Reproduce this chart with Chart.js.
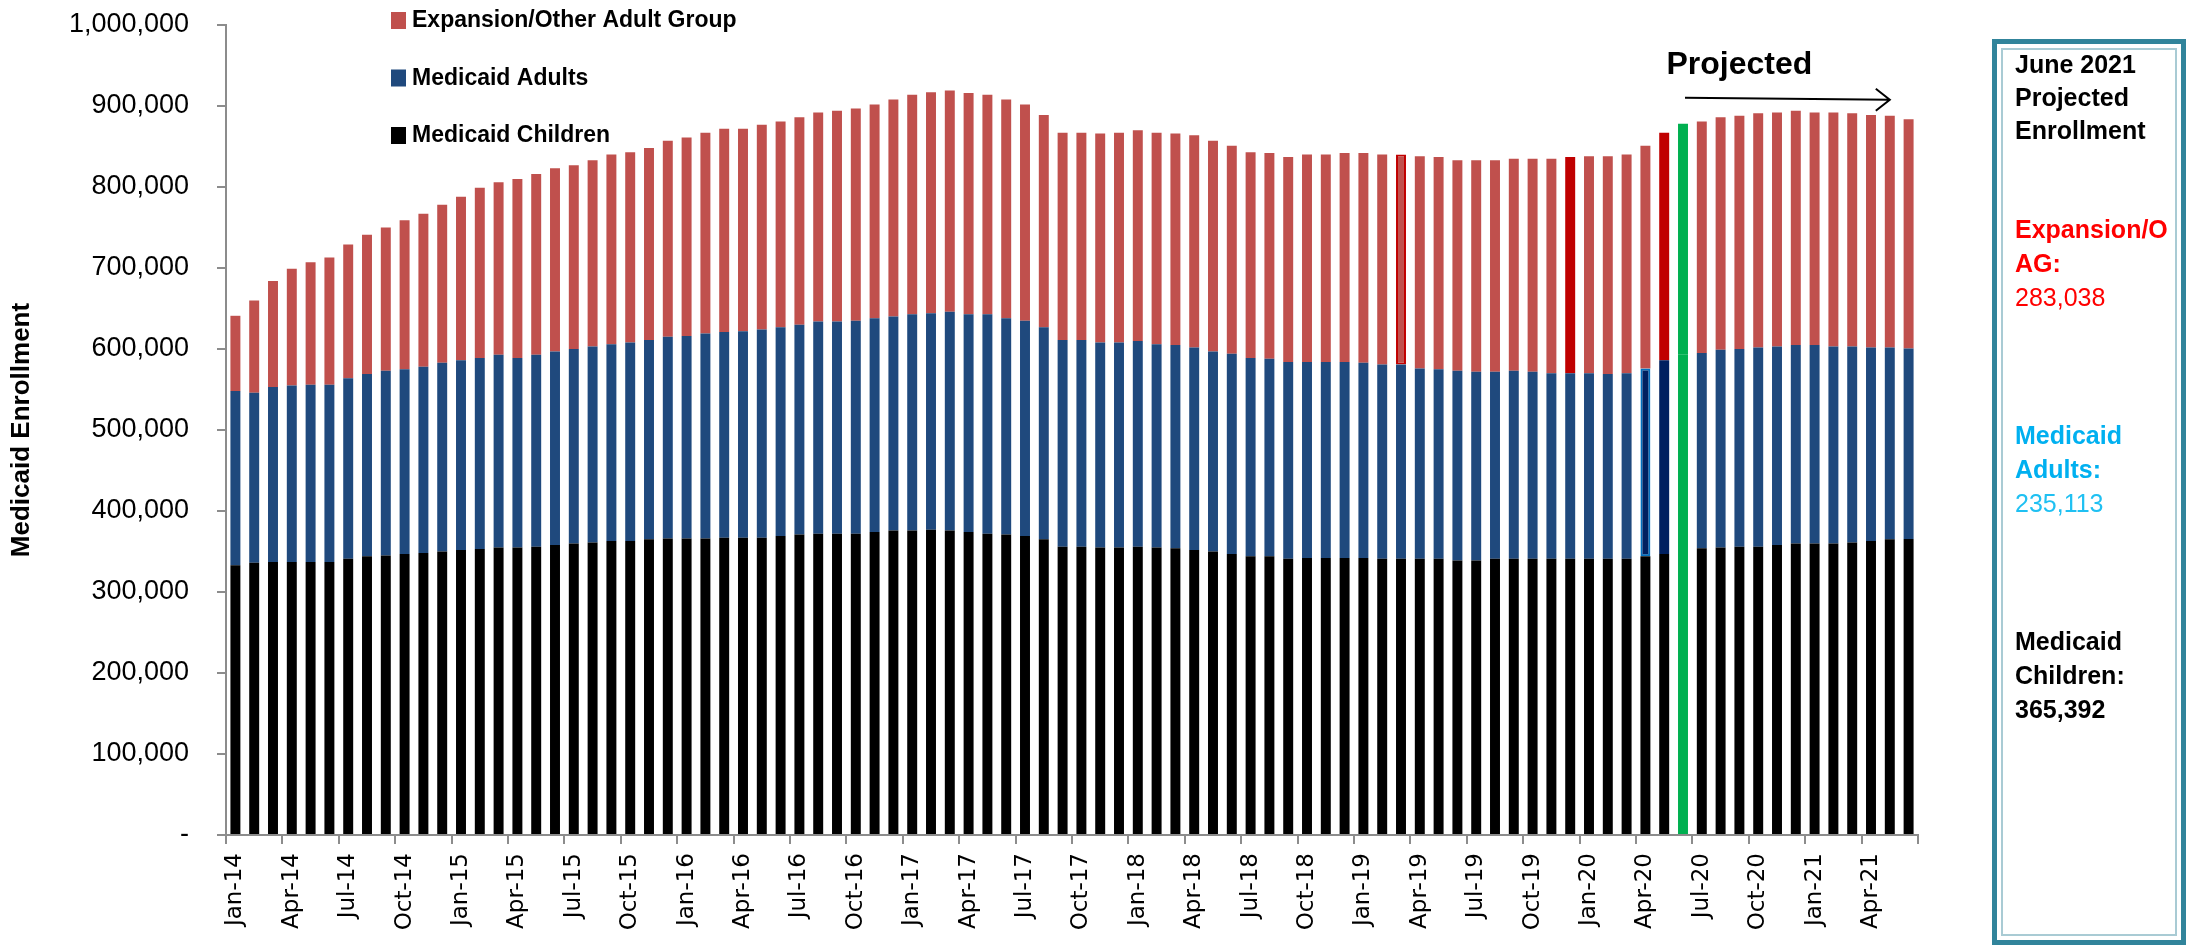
<!DOCTYPE html>
<html>
<head>
<meta charset="utf-8">
<script src="https://cdn.jsdelivr.net/npm/chart.js@4.4.1/dist/chart.umd.min.js"></script>
<style>
  html, body { margin: 0; padding: 0; background: #fff; }
  #wrap { position: relative; width: 2187px; height: 947px; }
</style>
</head>
<body>
<div id="wrap"><canvas id="chart" width="2187" height="947"></canvas></div>
<script>
var months = [
  'Jan-14','Feb-14','Mar-14','Apr-14','May-14','Jun-14','Jul-14','Aug-14','Sep-14','Oct-14','Nov-14','Dec-14',
  'Jan-15','Feb-15','Mar-15','Apr-15','May-15','Jun-15','Jul-15','Aug-15','Sep-15','Oct-15','Nov-15','Dec-15',
  'Jan-16','Feb-16','Mar-16','Apr-16','May-16','Jun-16','Jul-16','Aug-16','Sep-16','Oct-16','Nov-16','Dec-16',
  'Jan-17','Feb-17','Mar-17','Apr-17','May-17','Jun-17','Jul-17','Aug-17','Sep-17','Oct-17','Nov-17','Dec-17',
  'Jan-18','Feb-18','Mar-18','Apr-18','May-18','Jun-18','Jul-18','Aug-18','Sep-18','Oct-18','Nov-18','Dec-18',
  'Jan-19','Feb-19','Mar-19','Apr-19','May-19','Jun-19','Jul-19','Aug-19','Sep-19','Oct-19','Nov-19','Dec-19',
  'Jan-20','Feb-20','Mar-20','Apr-20','May-20','Jun-20','Jul-20','Aug-20','Sep-20','Oct-20','Nov-20','Dec-20',
  'Jan-21','Feb-21','Mar-21','Apr-21','May-21','Jun-21'
];

var medicaidChildren = [
  333000, 336000, 337000, 337000, 337000, 337000, 341000, 344000, 345000, 347000,
  348000, 350000, 352000, 353000, 355000, 355000, 356000, 358000, 360000, 361000,
  363000, 363000, 365000, 366000, 366000, 366000, 367000, 367000, 367000, 369000,
  371000, 372000, 372000, 372000, 374000, 376000, 376000, 377000, 376000, 374000,
  372000, 371000, 369000, 365000, 356000, 356000, 355000, 355000, 356000, 355000,
  354000, 352000, 350000, 347000, 344000, 344000, 341000, 342000, 342000, 342000,
  342000, 341000, 341000, 341000, 341000, 339000, 339000, 341000, 341000, 341000,
  341000, 341000, 341000, 341000, 341000, 344000, 347000, 352000, 354000, 355000,
  356000, 356000, 358000, 360000, 360000, 360000, 361000, 363000, 365000, 365392
];

var medicaidAdults = [
  215000, 210000, 216000, 218000, 219000, 219000, 223000, 225000, 228000, 228000,
  230000, 233000, 234000, 236000, 238000, 234000, 237000, 239000, 240000, 242000,
  243000, 245000, 246000, 249000, 250000, 253000, 254000, 255000, 257000, 258000,
  259000, 262000, 262000, 263000, 264000, 264000, 267000, 267000, 270000, 269000,
  271000, 267000, 266000, 262000, 255000, 255000, 253000, 253000, 254000, 251000,
  251000, 250000, 247000, 247000, 245000, 244000, 243000, 242000, 242000, 242000,
  241000, 240000, 240000, 235000, 234000, 234000, 233000, 231000, 232000, 231000,
  229000, 229000, 229000, 228000, 229000, 232000, 239000, 241000, 241000, 244000,
  244000, 246000, 245000, 245000, 245000, 243000, 242000, 239000, 237000, 235113
];

var expansionOAG = [
  93000, 114000, 131000, 144000, 151000, 157000, 165000, 172000, 177000, 184000,
  189000, 195000, 202000, 210000, 213000, 221000, 223000, 226000, 227000, 230000,
  234000, 235000, 237000, 242000, 245000, 248000, 251000, 250000, 253000, 254000,
  256000, 258000, 260000, 262000, 264000, 268000, 271000, 273000, 273000, 273000,
  271000, 270000, 267000, 262000, 256000, 256000, 258000, 259000, 260000, 261000,
  261000, 262000, 260000, 257000, 254000, 254000, 253000, 256000, 256000, 258000,
  259000, 259000, 259000, 262000, 262000, 260000, 261000, 261000, 262000, 263000,
  265000, 267000, 268000, 269000, 270000, 275000, 281000, 285000, 286000, 287000,
  288000, 289000, 289000, 289000, 287000, 289000, 288000, 287000, 286000, 283038
];

// June 2021 side box
var boxLines = [
  { text: 'June 2021', color: '#000000', bold: true, y: 66 },
  { text: 'Projected', color: '#000000', bold: true, y: 99 },
  { text: 'Enrollment', color: '#000000', bold: true, y: 132 },
  { text: 'Expansion/O', color: '#ff0000', bold: true, y: 231 },
  { text: 'AG:', color: '#ff0000', bold: true, y: 265 },
  { text: '283,038', color: '#ff0000', bold: false, y: 299 },
  { text: 'Medicaid', color: '#00b0f0', bold: true, y: 437 },
  { text: 'Adults:', color: '#00b0f0', bold: true, y: 471 },
  { text: '235,113', color: '#1fc0f2', bold: false, y: 505 },
  { text: 'Medicaid', color: '#000000', bold: true, y: 643 },
  { text: 'Children:', color: '#000000', bold: true, y: 677 },
  { text: '365,392', color: '#000000', bold: true, y: 711 }
];

var RED = '#c0504d', BLUE = '#1f497d', BLACK = '#000000';
var DARKRED = '#c00000', NAVY = '#002060', GREEN = '#00b050';
var projectedIdx = months.indexOf('Jun-20');

function fills(base, overrides) {
  return months.map(function (m, i) {
    if (i === projectedIdx) return GREEN;
    return overrides[m] || base;
  });
}
function borders(overrides) {
  return months.map(function (m) { return overrides[m] || 'rgba(0,0,0,0)'; });
}
function borderWidths(overrides) {
  return months.map(function (m) { return overrides[m] || 0; });
}

var extrasPlugin = {
  id: 'extras',
  afterDraw: function (chart) {
    var ctx = chart.ctx;
    var xs = chart.scales.x, ys = chart.scales.y;
    ctx.save();

    // legend
    var items = [
      { label: chart.data.datasets[2].label, color: RED },
      { label: chart.data.datasets[1].label, color: BLUE },
      { label: chart.data.datasets[0].label, color: BLACK }
    ];
    ctx.font = 'bold 23px "Liberation Sans", Arial, sans-serif';
    ctx.textBaseline = 'middle';
    items.forEach(function (it, k) {
      var cy = 20 + k * 57.5;
      ctx.fillStyle = it.color;
      ctx.fillRect(391, cy - 8, 15, 17);
      ctx.fillStyle = '#000';
      ctx.fillText(it.label, 412, cy + 1);
    });

    // projected label and arrow
    ctx.font = 'bold 32px "Liberation Sans", Arial, sans-serif';
    ctx.textAlign = 'center';
    ctx.fillStyle = '#000';
    ctx.fillText('Projected', xs.getPixelForValue(80), ys.getPixelForValue(950000));
    var ax0 = xs.getPixelForValue(projectedIdx) + 2, ax1 = xs.getPixelForValue(88);
    var ay = ys.getPixelForValue(909000);
    ctx.strokeStyle = '#000';
    ctx.lineWidth = 2;
    ctx.beginPath();
    ctx.moveTo(ax0, ay - 1);
    ctx.lineTo(ax1, ay + 1);
    ctx.moveTo(ax1 - 14, ay - 10);
    ctx.lineTo(ax1, ay + 1);
    ctx.lineTo(ax1 - 14, ay + 12);
    ctx.stroke();

    // side box
    ctx.lineWidth = 5;
    ctx.strokeStyle = '#31849b';
    ctx.strokeRect(1994.5, 41.5, 189, 901);
    ctx.lineWidth = 2;
    ctx.strokeStyle = '#a9cbd4';
    ctx.strokeRect(2002, 49, 174, 886);
    ctx.textAlign = 'left';
    boxLines.forEach(function (l) {
      ctx.font = (l.bold ? 'bold ' : '') + '25px "Liberation Sans", Arial, sans-serif';
      ctx.fillStyle = l.color;
      ctx.fillText(l.text, 2015, l.y);
    });
    ctx.restore();
  }
};

new Chart(document.getElementById('chart').getContext('2d'), {
  type: 'bar',
  data: {
    labels: months,
    datasets: [
      {
        label: 'Medicaid Children',
        data: medicaidChildren,
        backgroundColor: fills(BLACK, {}),
        borderWidth: 0
      },
      {
        label: 'Medicaid Adults',
        data: medicaidAdults,
        backgroundColor: fills(BLUE, { 'Apr-20': NAVY, 'May-20': NAVY }),
        borderColor: borders({ 'Apr-20': '#0070c0' }),
        borderWidth: borderWidths({ 'Apr-20': 2 }),
        borderSkipped: false
      },
      {
        label: 'Expansion/Other Adult Group',
        data: expansionOAG,
        backgroundColor: fills(RED, { 'Dec-19': DARKRED, 'May-20': DARKRED }),
        borderColor: borders({ 'Mar-19': DARKRED }),
        borderWidth: borderWidths({ 'Mar-19': 2 }),
        borderSkipped: false
      }
    ]
  },
  options: {
    responsive: false,
    animation: false,
    layout: { padding: { top: 25, right: 269, left: 0, bottom: 0 } },
    datasets: { bar: { barPercentage: 0.53, categoryPercentage: 1.0 } },
    plugins: {
      legend: { display: false },
      tooltip: { enabled: false }
    },
    scales: {
      x: {
        stacked: true,
        offset: true,
        grid: {
          offset: true,
          drawOnChartArea: false,
          drawTicks: true,
          tickLength: 9,
          lineWidth: 2,
          color: function (c) {
            return (c.index === undefined || c.index % 3 === 0) ? '#8c8c8c' : 'rgba(0,0,0,0)';
          }
        },
        border: { color: '#8c8c8c', width: 2 },
        ticks: {
          autoSkip: false,
          maxRotation: 90,
          minRotation: 90,
          padding: 9,
          color: '#000',
          font: { family: '"DejaVu Sans", Verdana, sans-serif', size: 23 },
          callback: function (v, i) {
            return i % 3 === 0 ? this.getLabelForValue(v) : '';
          }
        },
        afterFit: function (s) { s.height = 112; }
      },
      y: {
        stacked: true,
        min: 0,
        max: 1000000,
        grid: {
          drawOnChartArea: false,
          drawTicks: true,
          tickLength: 9,
          lineWidth: 2,
          color: '#8c8c8c'
        },
        border: { color: '#8c8c8c', width: 2 },
        ticks: {
          stepSize: 100000,
          padding: 28,
          color: '#000',
          font: { family: '"Liberation Sans", Arial, sans-serif', size: 27 },
          callback: function (v) {
            return v === 0 ? '-' : v.toLocaleString('en-US');
          }
        },
        title: {
          display: true,
          text: 'Medicaid Enrollment',
          color: '#000',
          font: { family: '"Liberation Sans", Arial, sans-serif', size: 26, weight: 'bold' },
          padding: { top: 6, bottom: 4 }
        },
        afterFit: function (s) {
          s.width = 226;
          s.paddingTop = 0;
          s.paddingBottom = 0;
        }
      }
    }
  },
  plugins: [extrasPlugin]
});
</script>
</body>
</html>
